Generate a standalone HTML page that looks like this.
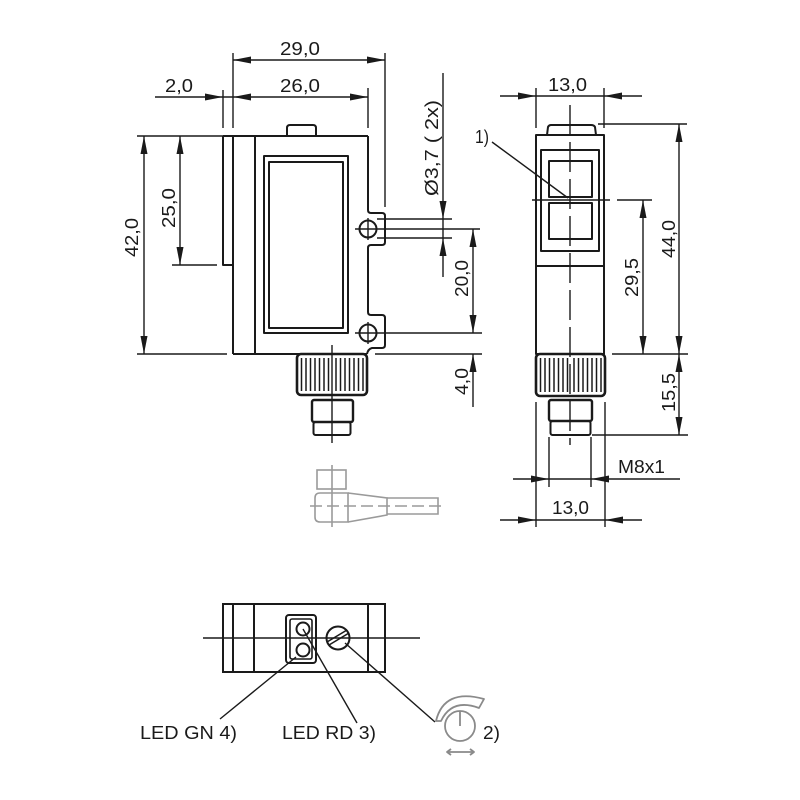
<!DOCTYPE html>
<html><head><meta charset="utf-8"><style>
html,body{margin:0;padding:0;background:#fff;}
svg{display:block;}
text{font-family:"Liberation Sans",Arial,sans-serif;font-size:18px;fill:#1a1a1a;}
</style></head><body>
<svg width="800" height="800" viewBox="0 0 800 800" xmlns="http://www.w3.org/2000/svg">
<rect width="800" height="800" fill="#fff"/>

<!-- ============ LEFT (SIDE) VIEW ============ -->
<g stroke="#1a1a1a" stroke-width="1.4" fill="none">
  <!-- dimension lines -->
  <line x1="233" y1="60" x2="385" y2="60"/>
  <line x1="155" y1="97" x2="368" y2="97"/>
  <line x1="233" y1="53" x2="233" y2="128"/>
  <line x1="385" y1="53" x2="385" y2="207"/>
  <line x1="223" y1="90" x2="223" y2="128"/>
  <line x1="368" y1="88" x2="368" y2="128"/>
  <line x1="137" y1="136" x2="223" y2="136"/>
  <line x1="144" y1="136" x2="144" y2="354"/>
  <line x1="137" y1="354" x2="227" y2="354"/>
  <line x1="180" y1="136" x2="180" y2="265"/>
  <line x1="172" y1="265" x2="217" y2="265"/>
  <!-- right-side dims -->
  <line x1="443" y1="73" x2="443" y2="277"/>
  <line x1="377" y1="219" x2="452" y2="219"/>
  <line x1="377" y1="238" x2="452" y2="238"/>
  <line x1="355" y1="229" x2="480" y2="229"/>
  <line x1="473" y1="229" x2="473" y2="333"/>
  <line x1="355" y1="333" x2="482" y2="333"/>
  <line x1="375" y1="354" x2="482" y2="354"/>
  <line x1="473" y1="354" x2="473" y2="407"/>
  <line x1="368" y1="218" x2="368" y2="240"/>
  <line x1="368" y1="322" x2="368" y2="344"/>
  <!-- center line of connector -->
  <line x1="332" y1="345" x2="332" y2="443"/>
</g>
<g stroke="#1a1a1a" stroke-width="2" fill="none" stroke-linejoin="round">
  <!-- body -->
  <polyline points="223,136 368,136"/>
  <path d="M287,136 L287,128 Q287,125 290,125 L313,125 Q316,125 316,128 L316,136"/>
  <polyline points="223,136 223,265 233,265"/>
  <line x1="233" y1="136" x2="233" y2="354"/>
  <line x1="255" y1="136" x2="255" y2="354"/>
  <line x1="233" y1="354" x2="367" y2="354"/>
  <rect x="264" y="156" width="84" height="177"/>
  <rect x="269" y="162" width="74" height="166"/>
  <!-- right edge with lugs -->
  <path d="M368,136 L368,210 Q368,213 371,213 L382,213 Q385,213 385,216 L385,242 Q385,245 382,245 L371,245 Q368,245 368,248 L368,312 Q368,315 371,315 L382,315 Q385,315 385,318 L385,345 Q385,348 382,348 L372,348 Q368,349 367,354"/>
  <circle cx="368" cy="229" r="8.5"/>
  <circle cx="368" cy="333" r="8.5"/>
</g>
<!-- knurled nut left -->
<g stroke="#1a1a1a" fill="none">
  <rect x="297" y="354" width="70" height="41" rx="4" stroke-width="2.6"/>
  <g stroke-width="1.5">
    <line x1="301.5" y1="358" x2="301.5" y2="391"/>
    <line x1="306" y1="358" x2="306" y2="391"/>
    <line x1="310.5" y1="358" x2="310.5" y2="391"/>
    <line x1="315" y1="358" x2="315" y2="391"/>
    <line x1="319.5" y1="358" x2="319.5" y2="391"/>
    <line x1="324" y1="358" x2="324" y2="391"/>
    <line x1="328.5" y1="358" x2="328.5" y2="391"/>
    <line x1="336" y1="358" x2="336" y2="391"/>
    <line x1="340.5" y1="358" x2="340.5" y2="391"/>
    <line x1="345" y1="358" x2="345" y2="391"/>
    <line x1="349.5" y1="358" x2="349.5" y2="391"/>
    <line x1="354" y1="358" x2="354" y2="391"/>
    <line x1="358.5" y1="358" x2="358.5" y2="391"/>
    <line x1="363" y1="358" x2="363" y2="391"/>
  </g>
  <rect x="312" y="400" width="41" height="22" rx="2" stroke-width="2.4"/>
  <rect x="313.5" y="422" width="37" height="13" rx="2" stroke-width="2"/>
</g>
<!-- gray angled connector -->
<g stroke="#9a9a9a" stroke-width="1.6" fill="none">
  <rect x="317" y="470" width="29" height="19"/>
  <path d="M348,493 L320,493 Q315,493 315,498 L315,517 Q315,522 320,522 L348,522 Z"/>
  <path d="M348,493 L387,498 L387,515 L348,522"/>
  <path d="M387,498 L438,498 L438,514 L387,514"/>
  <line x1="332" y1="465" x2="332" y2="527"/>
  <line x1="310" y1="506" x2="443" y2="506" stroke-dasharray="12 5"/>
</g>

<!-- ============ RIGHT (FRONT) VIEW ============ -->
<g stroke="#1a1a1a" stroke-width="1.4" fill="none">
  <line x1="500" y1="96" x2="642" y2="96"/>
  <line x1="536" y1="88" x2="536" y2="128"/>
  <line x1="604" y1="88" x2="604" y2="128"/>
  <line x1="598" y1="124" x2="687" y2="124"/>
  <line x1="532" y1="200" x2="610" y2="200"/>
  <line x1="617" y1="200" x2="652" y2="200"/>
  <line x1="492" y1="142" x2="568" y2="198"/>
  <line x1="643" y1="200" x2="643" y2="354"/>
  <line x1="679" y1="124" x2="679" y2="435"/>
  <line x1="612" y1="354" x2="688" y2="354"/>
  <line x1="592" y1="435" x2="688" y2="435"/>
  <line x1="536" y1="402" x2="536" y2="527"/>
  <line x1="605" y1="402" x2="605" y2="527"/>
  <line x1="549" y1="437" x2="549" y2="487"/>
  <line x1="591" y1="437" x2="591" y2="487"/>
  <line x1="513" y1="479" x2="680" y2="479"/>
  <line x1="500" y1="520" x2="642" y2="520"/>
  <line x1="570" y1="105" x2="570" y2="445" stroke-dasharray="30 7"/>
</g>
<g stroke="#1a1a1a" stroke-width="2" fill="none" stroke-linejoin="round">
  <rect x="536" y="135" width="68" height="219"/>
  <path d="M547,135 L548,127 Q549,125 551,125 L591,125 Q594,125 595,127 L596,135"/>
  <rect x="541" y="150" width="58" height="101"/>
  <rect x="549" y="161" width="43" height="36"/>
  <rect x="549" y="203" width="43" height="36"/>
  <line x1="536" y1="266" x2="604" y2="266"/>
</g>
<g stroke="#1a1a1a" fill="none">
  <rect x="536" y="354" width="69" height="42" rx="4" stroke-width="2.6"/>
  <g stroke-width="1.5">
    <line x1="540.5" y1="358" x2="540.5" y2="392"/>
    <line x1="545" y1="358" x2="545" y2="392"/>
    <line x1="549.5" y1="358" x2="549.5" y2="392"/>
    <line x1="554" y1="358" x2="554" y2="392"/>
    <line x1="558.5" y1="358" x2="558.5" y2="392"/>
    <line x1="563" y1="358" x2="563" y2="392"/>
    <line x1="567.5" y1="358" x2="567.5" y2="392"/>
    <line x1="574" y1="358" x2="574" y2="392"/>
    <line x1="578.5" y1="358" x2="578.5" y2="392"/>
    <line x1="583" y1="358" x2="583" y2="392"/>
    <line x1="587.5" y1="358" x2="587.5" y2="392"/>
    <line x1="592" y1="358" x2="592" y2="392"/>
    <line x1="596.5" y1="358" x2="596.5" y2="392"/>
    <line x1="601" y1="358" x2="601" y2="392"/>
  </g>
  <rect x="549" y="400" width="43" height="21" rx="2" stroke-width="2.4"/>
  <rect x="550.5" y="421" width="40" height="14" rx="2" stroke-width="2"/>
</g>

<!-- arrowheads -->
<g fill="#1a1a1a" stroke="none">
  <polygon points="233,60 251,56.5 251,63.5"/>
  <polygon points="385,60 367,56.5 367,63.5"/>
  <polygon points="223,97 205,93.5 205,100.5"/>
  <polygon points="233,97 251,93.5 251,100.5"/>
  <polygon points="368,97 350,93.5 350,100.5"/>
  <polygon points="144,136 140.5,154 147.5,154"/>
  <polygon points="144,354 140.5,336 147.5,336"/>
  <polygon points="180,136 176.5,154 183.5,154"/>
  <polygon points="180,265 176.5,247 183.5,247"/>
  <polygon points="443,219 439.5,201 446.5,201"/>
  <polygon points="443,238 439.5,256 446.5,256"/>
  <polygon points="473,229 469.5,247 476.5,247"/>
  <polygon points="473,333 469.5,315 476.5,315"/>
  <polygon points="473,354 469.5,372 476.5,372"/>
  <polygon points="536,96 518,92.5 518,99.5"/>
  <polygon points="604,96 622,92.5 622,99.5"/>
  <polygon points="643,200 639.5,218 646.5,218"/>
  <polygon points="643,354 639.5,336 646.5,336"/>
  <polygon points="679,124 675.5,142 682.5,142"/>
  <polygon points="679,354 675.5,336 682.5,336"/>
  <polygon points="679,354 675.5,372 682.5,372"/>
  <polygon points="679,435 675.5,417 682.5,417"/>
  <polygon points="549,479 531,475.5 531,482.5"/>
  <polygon points="591,479 609,475.5 609,482.5"/>
  <polygon points="536,520 518,516.5 518,523.5"/>
  <polygon points="605,520 623,516.5 623,523.5"/>
</g>

<!-- dimension texts -->
<text x="280" y="55" textLength="40" lengthAdjust="spacingAndGlyphs">29,0</text>
<text x="280" y="92" textLength="40" lengthAdjust="spacingAndGlyphs">26,0</text>
<text x="165" y="92" textLength="28" lengthAdjust="spacingAndGlyphs">2,0</text>
<text x="475" y="143" textLength="14" lengthAdjust="spacingAndGlyphs">1)</text>
<text x="548" y="91" textLength="39" lengthAdjust="spacingAndGlyphs">13,0</text>
<text x="618" y="473" textLength="47" lengthAdjust="spacingAndGlyphs">M8x1</text>
<text x="552" y="514" textLength="37" lengthAdjust="spacingAndGlyphs">13,0</text>
<text transform="translate(138,257) rotate(-90)" textLength="39" lengthAdjust="spacingAndGlyphs">42,0</text>
<text transform="translate(175,228) rotate(-90)" textLength="40" lengthAdjust="spacingAndGlyphs">25,0</text>
<text transform="translate(468,297) rotate(-90)" textLength="37" lengthAdjust="spacingAndGlyphs">20,0</text>
<text transform="translate(468,395) rotate(-90)" textLength="27" lengthAdjust="spacingAndGlyphs">4,0</text>
<text transform="translate(438,196) rotate(-90)" textLength="96" lengthAdjust="spacingAndGlyphs">Ø3,7 ( 2x)</text>
<text transform="translate(638,297) rotate(-90)" textLength="39" lengthAdjust="spacingAndGlyphs">29,5</text>
<text transform="translate(675,258) rotate(-90)" textLength="38" lengthAdjust="spacingAndGlyphs">44,0</text>
<text transform="translate(675,412) rotate(-90)" textLength="39" lengthAdjust="spacingAndGlyphs">15,5</text>

<!-- ============ BOTTOM (TOP) VIEW ============ -->
<g stroke="#1a1a1a" stroke-width="1.4" fill="none">
  <line x1="203" y1="638" x2="420" y2="638"/>
  <line x1="296" y1="657" x2="220" y2="719"/>
  <line x1="303" y1="629" x2="357" y2="723"/>
  <line x1="345" y1="643" x2="435" y2="722"/>
</g>
<g stroke="#1a1a1a" stroke-width="2" fill="none">
  <rect x="223" y="604" width="162" height="68"/>
  <line x1="233" y1="604" x2="233" y2="672"/>
  <line x1="254" y1="604" x2="254" y2="672"/>
  <line x1="368" y1="604" x2="368" y2="672"/>
  <rect x="286" y="615" width="30" height="48" rx="3"/>
  <rect x="290" y="619" width="22" height="40" rx="2" stroke-width="1.6"/>
  <circle cx="303" cy="629" r="6.5"/>
  <circle cx="303" cy="650" r="6.5"/>
  <circle cx="338" cy="638" r="11.5"/>
  <line x1="327" y1="642" x2="347" y2="630" stroke-width="1.5"/>
  <line x1="329" y1="645" x2="349" y2="633" stroke-width="1.5"/>
</g>
<!-- pot symbol -->
<g stroke="#8a8a8a" stroke-width="1.8" fill="none" stroke-linejoin="round">
  <circle cx="460" cy="726" r="15"/>
  <line x1="460" y1="711" x2="460" y2="726"/>
  <path d="M436,721 Q444,688 484,699 L479,708 Q452,698 441,721 Z"/>
  <line x1="448" y1="752" x2="473" y2="752"/>
  <polyline points="451,749 447,752 451,755"/>
  <polyline points="470,749 474,752 470,755"/>
</g>
<text x="140" y="739" textLength="97" lengthAdjust="spacingAndGlyphs">LED GN 4)</text>
<text x="282" y="739" textLength="94" lengthAdjust="spacingAndGlyphs">LED RD 3)</text>
<text x="483" y="739" textLength="17" lengthAdjust="spacingAndGlyphs">2)</text>
</svg>
</body></html>
